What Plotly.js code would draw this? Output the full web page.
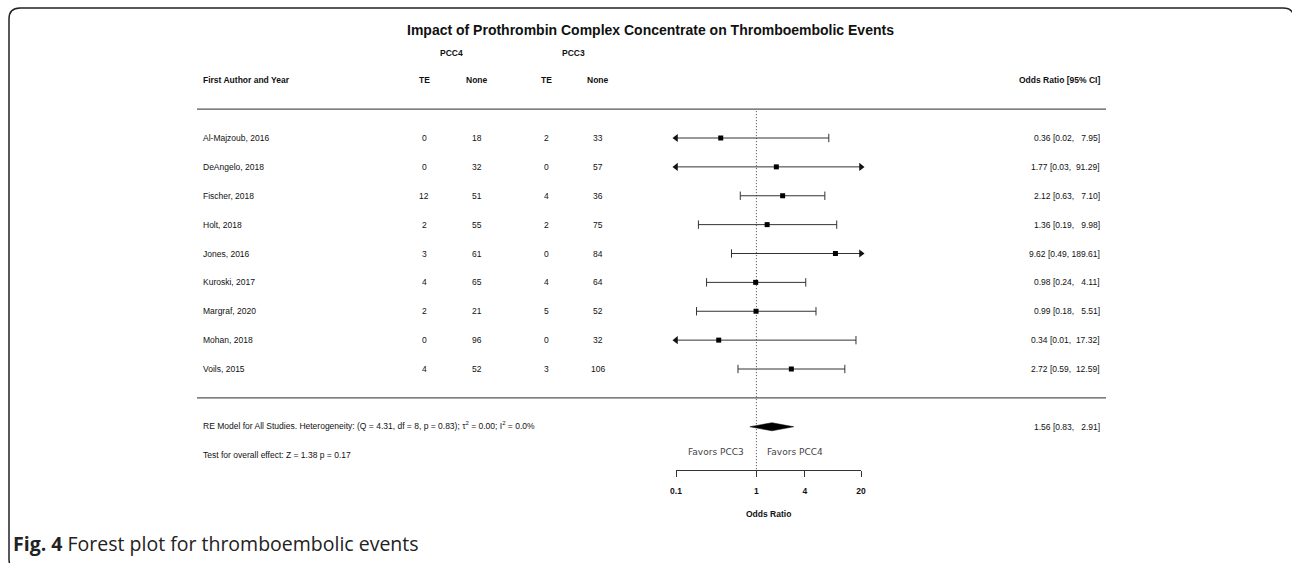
<!DOCTYPE html>
<html>
<head>
<meta charset="utf-8">
<script src="https://cdn.plot.ly/plotly-3.0.1.min.js"></script>
<style>
  html, body { margin: 0; padding: 0; background: #fff; }
  #chart { width: 1292px; height: 563px; }
</style>
</head>
<body>
<div id="chart"></div>
<script>
// ---- study data ----
const studies = ['Al-Majzoub, 2016', 'DeAngelo, 2018', 'Fischer, 2018', 'Holt, 2018', 'Jones, 2016',
                 'Kuroski, 2017', 'Margraf, 2020', 'Mohan, 2018', 'Voils, 2015'];
const pcc4TE   = [0, 0, 12, 2, 3, 4, 2, 0, 4];
const pcc4None = [18, 32, 51, 55, 61, 65, 21, 96, 52];
const pcc3TE   = [2, 0, 4, 2, 0, 4, 5, 0, 3];
const pcc3None = [33, 57, 36, 75, 84, 64, 52, 32, 106];
const orEst  = [0.36, 1.77, 2.12, 1.36, 9.62, 0.98, 0.99, 0.34, 2.72];
const orLow  = [0.02, 0.03, 0.63, 0.19, 0.49, 0.24, 0.18, 0.01, 0.59];
const orHigh = [7.95, 91.29, 7.10, 9.98, 189.61, 4.11, 5.51, 17.32, 12.59];

// ---- pooled random-effects estimate ----
const pooledEst = 1.56;
const pooledLow = 0.83;
const pooledHigh = 2.91;
const heterogeneityText = 'RE Model for All Studies. Heterogeneity: (Q = 4.31, df = 8, p = 0.83); \u03c4<sup>2</sup> = 0.00; I<sup>2</sup> = 0.0%';
const overallTestText = 'Test for overall effect: Z = 1.38 p = 0.17';

// ---- axis ----
const axisLimits = [0.1, 20];
const axisTicks = [0.1, 1, 4, 20];
const axisTickText = ['0.1', '1', '4', '20'];

// ---- page geometry helpers (pixels -> paper fractions) ----
const W = 1292, H = 563;
const px = v => v / W;
const py = v => 1 - v / H;

const FONT = 'Liberation Sans, Arial, sans-serif';
const INK = '#111';
const LINE = '#333';

const n = studies.length;
const rows = studies.map((_, i) => i);
const summaryRow = n + 1;

// confidence-interval segments, clipped to the axis limits
const ciX = [], ciY = [];
const capX = [], capY = [];
const arrowLX = [], arrowLY = [], arrowRX = [], arrowRY = [];
rows.forEach(i => {
  const lo = Math.max(orLow[i], axisLimits[0]);
  const hi = Math.min(orHigh[i], axisLimits[1]);
  ciX.push(lo, hi, null); ciY.push(i, i, null);
  if (orLow[i] < axisLimits[0]) { arrowLX.push(axisLimits[0]); arrowLY.push(i); }
  else { capX.push(orLow[i]); capY.push(i); }
  if (orHigh[i] > axisLimits[1]) { arrowRX.push(axisLimits[1]); arrowRY.push(i); }
  else { capX.push(orHigh[i]); capY.push(i); }
});

const dH = 0.14; // half height of the summary diamond, in rows

const traces = [
  { // reference line at OR = 1
    x: [1, 1], y: [-0.93, 11.5], mode: 'lines',
    line: { color: '#444', width: 1, dash: '1px,2px' }, hoverinfo: 'skip', cliponaxis: false
  },
  {
    x: ciX, y: ciY, mode: 'lines',
    line: { color: LINE, width: 1 }, hoverinfo: 'skip'
  },
  {
    x: capX, y: capY, mode: 'markers', cliponaxis: false,
    marker: { symbol: 'line-ns-open', size: 6, color: LINE, line: { color: LINE, width: 1 } },
    hoverinfo: 'skip'
  },
  {
    x: arrowLX, y: arrowLY, mode: 'markers', cliponaxis: false,
    marker: { symbol: 'triangle-left', size: 7, color: '#111', line: { width: 0 } }, hoverinfo: 'skip'
  },
  {
    x: arrowRX, y: arrowRY, mode: 'markers', cliponaxis: false,
    marker: { symbol: 'triangle-right', size: 7, color: '#111', line: { width: 0 } }, hoverinfo: 'skip'
  },
  {
    x: orEst, y: rows, mode: 'markers', cliponaxis: false,
    marker: { symbol: 'square', size: 5, color: '#000', line: { width: 0 } }, hoverinfo: 'skip'
  },
  { // pooled estimate diamond
    x: [pooledLow, pooledEst, pooledHigh, pooledEst, pooledLow],
    y: [summaryRow, summaryRow - dH, summaryRow, summaryRow + dH, summaryRow],
    mode: 'lines', fill: 'toself', fillcolor: '#000',
    line: { color: '#000', width: 0.5 }, hoverinfo: 'skip'
  }
];

const annotations = [];
function txt(text, xPix, row, opts = {}) {
  annotations.push(Object.assign({
    text: text, x: px(xPix), y: row, xref: 'paper', yref: 'y',
    xanchor: 'center', yanchor: 'middle', showarrow: false, borderpad: 0, borderwidth: 0,
    font: { family: FONT, size: 8.5, color: INK }
  }, opts));
}

const fmt = v => v.toFixed(2);
const ciString = (est, lo, hi) =>
  fmt(est) + ' [' + fmt(lo) + ',\u00a0' + fmt(hi).padStart(6, '\u00a0') + ']';

// titles and column headers
txt('<b>Impact of Prothrombin Complex Concentrate on Thromboembolic Events</b>', 650, -3.74,
    { font: { family: FONT, size: 14, color: INK } });
txt('<b>PCC4</b>', 451, -2.94);
txt('<b>PCC3</b>', 573, -2.94);
txt('<b>First Author and Year</b>', 203, -2.01, { xanchor: 'left' });
txt('<b>TE</b>', 424, -2.01);
txt('<b>None</b>', 477, -2.01);
txt('<b>TE</b>', 546, -2.01);
txt('<b>None</b>', 598, -2.01);
txt('<b>Odds Ratio [95% CI]</b>', 1100, -2.01, { xanchor: 'right' });

// study rows
rows.forEach(i => {
  txt(studies[i], 203, i, { xanchor: 'left' });
  txt(String(pcc4TE[i]), 424, i);
  txt(String(pcc4None[i]), 477, i);
  txt(String(pcc3TE[i]), 546, i);
  txt(String(pcc3None[i]), 598, i);
  txt(ciString(orEst[i], orLow[i], orHigh[i]), 1100, i, { xanchor: 'right' });
});

// summary rows
txt(heterogeneityText, 203, summaryRow - 0.06, { xanchor: 'left' });
txt(ciString(pooledEst, pooledLow, pooledHigh), 1100, summaryRow, { xanchor: 'right' });
txt(overallTestText, 203, summaryRow + 0.97, { xanchor: 'left' });

// direction labels
const favFont = { family: 'DejaVu Sans, sans-serif', size: 9, color: '#444' };
txt('Favors PCC3', 744, summaryRow + 0.86, { xanchor: 'right', font: favFont });
txt('Favors PCC4', 767, summaryRow + 0.86, { xanchor: 'left', font: favFont });

// axis title
txt('<b>Odds Ratio</b>', 768, 13.02);

// figure caption
annotations.push({
  text: '<b>Fig. 4</b> Forest plot for thromboembolic events',
  x: px(12), y: py(543), xref: 'paper', yref: 'paper',
  xanchor: 'left', yanchor: 'middle', showarrow: false, borderpad: 0,
  font: { family: 'Open Sans, Noto Sans, sans-serif', size: 19.5, color: '#222' }
});

// rounded frame around the figure (right and bottom edges run just past the page)
const fx0 = 9, fy0 = 8, fx1 = 1294, fy1 = 570, r = 11;
const framePath = [
  'M', px(fx0 + r), py(fy0),
  'L', px(fx1 - r), py(fy0),
  'Q', px(fx1), py(fy0), px(fx1), py(fy0 + r),
  'L', px(fx1), py(fy1 - r),
  'Q', px(fx1), py(fy1), px(fx1 - r), py(fy1),
  'L', px(fx0 + r), py(fy1),
  'Q', px(fx0), py(fy1), px(fx0), py(fy1 - r),
  'L', px(fx0), py(fy0 + r),
  'Q', px(fx0), py(fy0), px(fx0 + r), py(fy0), 'Z'
].join(' ');

const shapes = [
  { type: 'line', xref: 'paper', yref: 'y', x0: px(197), x1: px(1106), y0: -1, y1: -1,
    line: { color: '#555', width: 1.4 } },
  { type: 'line', xref: 'paper', yref: 'y', x0: px(197), x1: px(1106), y0: n, y1: n,
    line: { color: '#555', width: 1.4 } },
  { type: 'path', xref: 'paper', yref: 'paper', path: framePath,
    line: { color: '#222', width: 1.5 } }
];

// row r sits at pixel 138 + 28.875 * r
const rowTopPix = 138, rowStep = 28.875;
const layout = {
  width: W, height: H,
  margin: { l: 0, r: 0, t: 0, b: 0 },
  paper_bgcolor: '#fff', plot_bgcolor: 'rgba(0,0,0,0)',
  showlegend: false,
  xaxis: {
    type: 'log', domain: [px(676), px(861)],
    range: [Math.log10(axisLimits[0]), Math.log10(axisLimits[1])],
    anchor: 'free', position: py(470),
    showline: true, linecolor: LINE, linewidth: 1,
    ticks: 'outside', ticklen: 6, tickcolor: LINE, tickwidth: 1,
    ticklabelstandoff: 7,
    tickvals: axisTicks, ticktext: axisTickText,
    tickfont: { family: FONT, size: 8.5, color: INK, weight: 'bold' },
    showgrid: false, zeroline: false, fixedrange: true
  },
  yaxis: {
    domain: [0, 1],
    range: [(H - rowTopPix) / rowStep, -rowTopPix / rowStep],
    visible: false, showgrid: false, zeroline: false, fixedrange: true
  },
  annotations: annotations,
  shapes: shapes
};

Plotly.newPlot('chart', traces, layout, { displayModeBar: false, staticPlot: true });
</script>
</body>
</html>
